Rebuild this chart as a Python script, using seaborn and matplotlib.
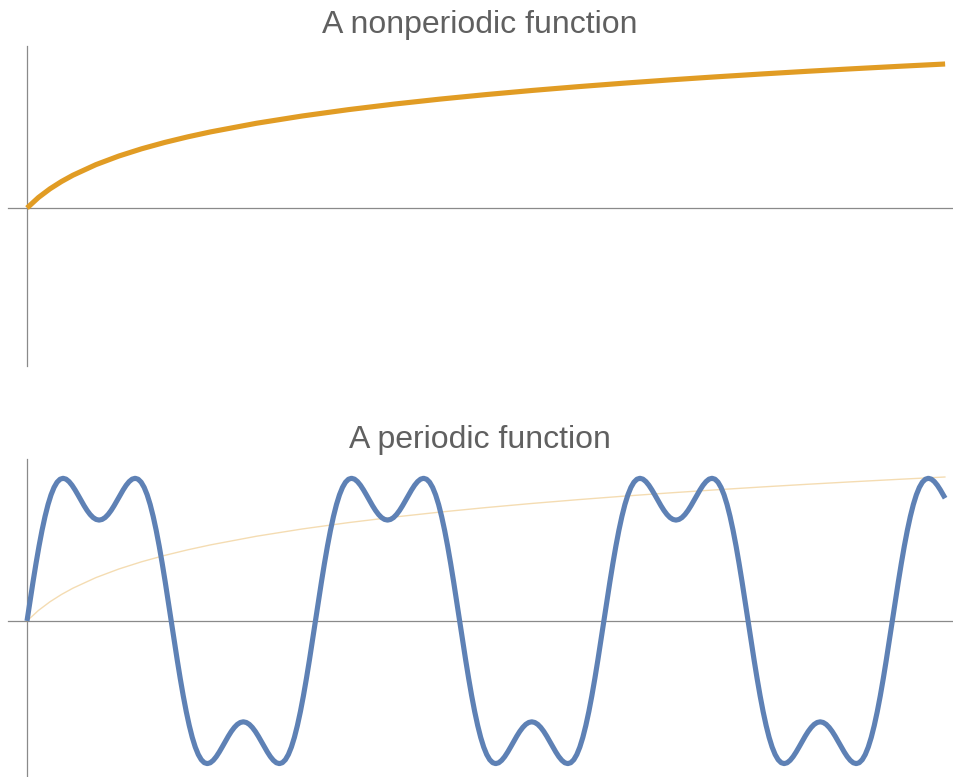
import numpy as np
import pandas as pd
import matplotlib
matplotlib.use("Agg")
import matplotlib.pyplot as plt
import seaborn as sns

# ---- data ----
titles = ["A nonperiodic function", "A periodic function"]

# nonperiodic curve (grows like a logarithm)
nonperiodic_x = [0, 0.25, 0.5, 0.75, 1, 1.5, 2, 2.5, 3, 3.5, 4, 5, 6, 7, 8, 9, 10,
                 11, 12, 13, 14, 15, 16, 17, 18, 19, 20]
nonperiodic_y = [0.0, 0.2231, 0.4055, 0.5596, 0.6931, 0.9163, 1.0986, 1.2528, 1.3863,
                 1.5041, 1.6094, 1.7918, 1.9459, 2.0794, 2.1972, 2.3026, 2.3979,
                 2.4849, 2.5649, 2.6391, 2.7081, 2.7726, 2.8332, 2.8904, 2.9444,
                 2.9957, 3.0445]

# periodic curve, sampled every pi/48 along x (last sample at x = 20)
periodic_y = [
    # period 1
    0.000, 0.417, 0.826, 1.217, 1.583, 1.916, 2.210, 2.462, 2.667, 2.824, 2.934, 2.997,
    3.017, 2.999, 2.947, 2.869, 2.771, 2.662, 2.548, 2.438, 2.337, 2.252, 2.187, 2.147,
    2.133, 2.147, 2.187, 2.252, 2.337, 2.438, 2.548, 2.662, 2.771, 2.869, 2.947, 2.999,
    3.017, 2.997, 2.934, 2.824, 2.667, 2.462, 2.210, 1.916, 1.583, 1.217, 0.826, 0.417,
    0.000, -0.417, -0.826, -1.217, -1.583, -1.916, -2.210, -2.462, -2.667, -2.824, -2.934, -2.997,
    -3.017, -2.999, -2.947, -2.869, -2.771, -2.662, -2.548, -2.438, -2.337, -2.252, -2.187, -2.147,
    -2.133, -2.147, -2.187, -2.252, -2.337, -2.438, -2.548, -2.662, -2.771, -2.869, -2.947, -2.999,
    -3.017, -2.997, -2.934, -2.824, -2.667, -2.462, -2.210, -1.916, -1.583, -1.217, -0.826, -0.417,
    # period 2
    0.000, 0.417, 0.826, 1.217, 1.583, 1.916, 2.210, 2.462, 2.667, 2.824, 2.934, 2.997,
    3.017, 2.999, 2.947, 2.869, 2.771, 2.662, 2.548, 2.438, 2.337, 2.252, 2.187, 2.147,
    2.133, 2.147, 2.187, 2.252, 2.337, 2.438, 2.548, 2.662, 2.771, 2.869, 2.947, 2.999,
    3.017, 2.997, 2.934, 2.824, 2.667, 2.462, 2.210, 1.916, 1.583, 1.217, 0.826, 0.417,
    0.000, -0.417, -0.826, -1.217, -1.583, -1.916, -2.210, -2.462, -2.667, -2.824, -2.934, -2.997,
    -3.017, -2.999, -2.947, -2.869, -2.771, -2.662, -2.548, -2.438, -2.337, -2.252, -2.187, -2.147,
    -2.133, -2.147, -2.187, -2.252, -2.337, -2.438, -2.548, -2.662, -2.771, -2.869, -2.947, -2.999,
    -3.017, -2.997, -2.934, -2.824, -2.667, -2.462, -2.210, -1.916, -1.583, -1.217, -0.826, -0.417,
    # period 3
    0.000, 0.417, 0.826, 1.217, 1.583, 1.916, 2.210, 2.462, 2.667, 2.824, 2.934, 2.997,
    3.017, 2.999, 2.947, 2.869, 2.771, 2.662, 2.548, 2.438, 2.337, 2.252, 2.187, 2.147,
    2.133, 2.147, 2.187, 2.252, 2.337, 2.438, 2.548, 2.662, 2.771, 2.869, 2.947, 2.999,
    3.017, 2.997, 2.934, 2.824, 2.667, 2.462, 2.210, 1.916, 1.583, 1.217, 0.826, 0.417,
    0.000, -0.417, -0.826, -1.217, -1.583, -1.916, -2.210, -2.462, -2.667, -2.824, -2.934, -2.997,
    -3.017, -2.999, -2.947, -2.869, -2.771, -2.662, -2.548, -2.438, -2.337, -2.252, -2.187, -2.147,
    -2.133, -2.147, -2.187, -2.252, -2.337, -2.438, -2.548, -2.662, -2.771, -2.869, -2.947, -2.999,
    -3.017, -2.997, -2.934, -2.824, -2.667, -2.462, -2.210, -1.916, -1.583, -1.217, -0.826, -0.417,
    # start of period 4, up to x = 20
    0.000, 0.417, 0.826, 1.217, 1.583, 1.916, 2.210, 2.462, 2.667, 2.824, 2.934, 2.997,
    3.017, 2.999, 2.947, 2.869, 2.771, 2.662,
    2.596,
]
periodic_x = list(np.arange(len(periodic_y) - 1) * np.pi / 48) + [20.0]

# ---- styling ----
sns.set_style("white")
plt.rcParams["font.family"] = ["Liberation Sans", "DejaVu Sans"]

ORANGE = "#E19C24"
BLUE = "#5E81B5"
AXIS = "#8a8a8a"
TITLE = "#606060"

W, H = 954, 777
fig = plt.figure(figsize=(W / 100, H / 100), dpi=100)
fig.patch.set_facecolor("white")

def add_axes(left_px, right_px, top_px, bottom_px):
    return fig.add_axes([left_px / W, 1 - bottom_px / H,
                         (right_px - left_px) / W, (bottom_px - top_px) / H])

ax1 = add_axes(8, 952, 46, 366)
ax2 = add_axes(8, 952, 459, 777)

df_np = pd.DataFrame({"x": nonperiodic_x, "y": nonperiodic_y})
df_p = pd.DataFrame({"x": periodic_x, "y": periodic_y})

sns.lineplot(data=df_np, x="x", y="y", ax=ax1, color=ORANGE, linewidth=3.7,
             sort=False, estimator=None, solid_capstyle="butt",
             solid_joinstyle="round")

sns.lineplot(data=df_np, x="x", y="y", ax=ax2, color=ORANGE, linewidth=1.0,
             alpha=0.35, sort=False, estimator=None)
sns.lineplot(data=df_p, x="x", y="y", ax=ax2, color=BLUE, linewidth=3.7,
             sort=False, estimator=None, solid_capstyle="butt",
             solid_joinstyle="round")

limits = [(-3.34, 3.425), (-3.30, 3.425)]
for ax, title, (lo, hi), pad in zip([ax1, ax2], titles, limits, [9.5, 8.0]):
    ax.set_xlim(-0.414, 20.15)
    ax.set_ylim(lo, hi)
    ax.set_facecolor("none")
    for s in ["top", "right"]:
        ax.spines[s].set_visible(False)
    ax.spines["left"].set_position(("data", 0))
    ax.spines["bottom"].set_position(("data", 0))
    for s in ["left", "bottom"]:
        ax.spines[s].set_color(AXIS)
        ax.spines[s].set_linewidth(0.9)
        ax.spines[s].set_zorder(0.5)
    ax.set_xticks([])
    ax.set_yticks([])
    ax.set_xlabel("")
    ax.set_ylabel("")
    ax.set_title(title, fontsize=23, color=TITLE, pad=pad)

fig.savefig("out.png", dpi=100, facecolor="white")
